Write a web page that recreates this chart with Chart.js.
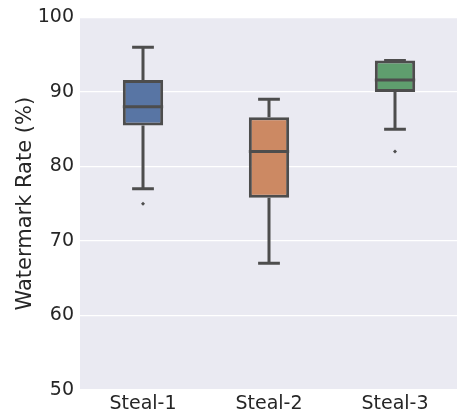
<!DOCTYPE html>
<html>
<head>
<meta charset="utf-8">
<script src="https://cdn.jsdelivr.net/npm/chart.js@4.4.0/dist/chart.umd.min.js"></script>
<style>
  html, body { margin: 0; padding: 0; background: #ffffff; overflow: hidden; }
  #wrap { width: 462px; height: 413px; position: relative; }
</style>
</head>
<body>
<div id="wrap"><canvas id="boxChart"></canvas></div>
<script>
// box plot stats
var labels = ["Steal-1", "Steal-2", "Steal-3"];
var q1 = [85.5, 75.8, 90.0];
var q3 = [91.6, 86.6, 94.2];
var medians = [88.0, 82.0, 91.6];
var whiskerLow = [77.0, 67.0, 85.0];
var whiskerHigh = [96.0, 89.0, 94.2];
var outliers = [
  { x: "Steal-1", y: 75.0 },
  { x: "Steal-3", y: 82.0 },
];
var boxColors = ["#5875a4", "#cc8963", "#5f9e6e"];
var yTicks = [50, 60, 70, 80, 90, 100];

var lineColor = "#4d4d4d";

// grey panel behind the plot area
var panelBg = {
  id: "panelBg",
  beforeDraw: function (chart) {
    var a = chart.chartArea;
    var c = chart.ctx;
    c.save();
    c.fillStyle = "#eaeaf2";
    c.fillRect(a.left, a.top, a.right - a.left, a.bottom - a.top);
    c.restore();
  },
};

// whiskers under the boxes, medians on top
var boxParts = {
  id: "boxParts",
  beforeDatasetsDraw: function (chart) {
    var c = chart.ctx;
    var y = chart.scales.y;
    var bars = chart.getDatasetMeta(0).data;
    c.save();
    c.strokeStyle = lineColor;
    c.lineWidth = 3;
    bars.forEach(function (bar, i) {
      var cap = bar.width * 0.27;
      c.beginPath();
      c.moveTo(bar.x, y.getPixelForValue(whiskerLow[i]));
      c.lineTo(bar.x, y.getPixelForValue(q1[i]));
      c.moveTo(bar.x, y.getPixelForValue(q3[i]));
      c.lineTo(bar.x, y.getPixelForValue(whiskerHigh[i]));
      c.moveTo(bar.x - cap, y.getPixelForValue(whiskerLow[i]));
      c.lineTo(bar.x + cap, y.getPixelForValue(whiskerLow[i]));
      c.moveTo(bar.x - cap, y.getPixelForValue(whiskerHigh[i]));
      c.lineTo(bar.x + cap, y.getPixelForValue(whiskerHigh[i]));
      c.stroke();
    });
    c.restore();
  },
  afterDatasetsDraw: function (chart) {
    var c = chart.ctx;
    var y = chart.scales.y;
    var bars = chart.getDatasetMeta(0).data;
    c.save();
    c.strokeStyle = lineColor;
    c.lineWidth = 3;
    bars.forEach(function (bar, i) {
      var py = y.getPixelForValue(medians[i]);
      c.beginPath();
      c.moveTo(bar.x - bar.width / 2, py);
      c.lineTo(bar.x + bar.width / 2, py);
      c.stroke();
    });
    c.restore();
  },
};

var ctx = document.getElementById("boxChart").getContext("2d");
var chart = new Chart(ctx, {
  type: "bar",
  data: {
    labels: labels,
    datasets: [
      {
        label: "box",
        data: q1.map(function (v, i) { return [v, q3[i]]; }),
        backgroundColor: boxColors,
        borderColor: lineColor,
        borderWidth: 3,
        borderSkipped: false,
        barPercentage: 0.32,
        categoryPercentage: 1.0,
        order: 2,
      },
      {
        type: "scatter",
        label: "outliers",
        data: outliers,
        pointStyle: "rectRot",
        pointRadius: 2,
        backgroundColor: lineColor,
        borderColor: lineColor,
        borderWidth: 0,
        order: 1,
      },
    ],
  },
  options: {
    responsive: true,
    maintainAspectRatio: false,
    animation: false,
    layout: { padding: { top: 16, right: 0, bottom: 0, left: 0 } },
    plugins: {
      legend: { display: false },
      tooltip: { enabled: false },
    },
    scales: {
      x: {
        type: "category",
        labels: labels,
        offset: true,
        grid: { display: false, drawTicks: false },
        border: { display: false },
        ticks: {
          color: "#262626",
          padding: 3,
          font: { family: "DejaVu Sans", size: 19 },
        },
        afterFit: function (s) { s.height = 23; },
      },
      y: {
        min: 50,
        max: 100,
        afterBuildTicks: function (s) {
          s.ticks = yTicks.map(function (v) { return { value: v }; });
        },
        grid: { color: "#ffffff", lineWidth: 1.3, drawTicks: false },
        border: { display: false },
        ticks: {
          color: "#262626",
          padding: 6,
          font: { family: "DejaVu Sans", size: 19 },
        },
        title: {
          display: true,
          text: "Watermark Rate (%)",
          color: "#262626",
          padding: { top: 13, bottom: 4 },
          font: { family: "DejaVu Sans", size: 21 },
        },
        afterFit: function (s) { s.width = 80; },
      },
    },
  },
  plugins: [panelBg, boxParts],
});
</script>
</body>
</html>
